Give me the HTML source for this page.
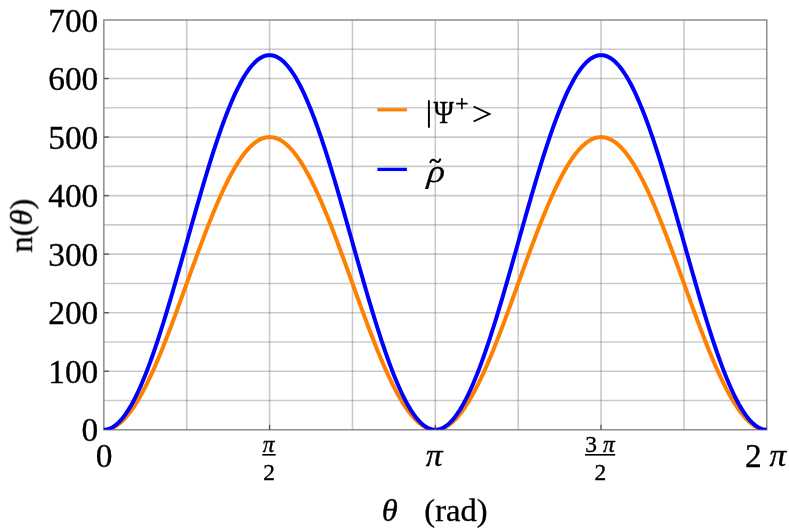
<!DOCTYPE html>
<html><head><meta charset="utf-8"><title>plot</title>
<style>
html,body{margin:0;padding:0;background:#fff;}
body{width:789px;height:532px;overflow:hidden;}
svg{display:block;}
text{font-family:"Liberation Serif",serif;fill:#000;stroke:#000;stroke-width:0.35px;}
.t{font-size:33.4px;}
.s{font-size:23.4px;}
.i{font-style:italic;}
</style></head><body>
<svg width="789" height="532" viewBox="0 0 789 532">
<rect width="789" height="532" fill="#fff"/>
<mask id="m" maskUnits="userSpaceOnUse" x="0" y="0" width="789" height="532"><rect width="789" height="532" fill="#fff"/></mask>
<g stroke="#666" stroke-opacity="0.35" stroke-width="1.6" fill="none">
<line x1="186.72" y1="20.0" x2="186.72" y2="429.8"/>
<line x1="269.59" y1="20.0" x2="269.59" y2="429.8"/>
<line x1="352.46" y1="20.0" x2="352.46" y2="429.8"/>
<line x1="435.32" y1="20.0" x2="435.32" y2="429.8"/>
<line x1="518.19" y1="20.0" x2="518.19" y2="429.8"/>
<line x1="601.06" y1="20.0" x2="601.06" y2="429.8"/>
<line x1="683.93" y1="20.0" x2="683.93" y2="429.8"/>
<line x1="103.85" y1="400.53" x2="766.8" y2="400.53"/>
<line x1="103.85" y1="371.26" x2="766.8" y2="371.26"/>
<line x1="103.85" y1="341.99" x2="766.8" y2="341.99"/>
<line x1="103.85" y1="312.71" x2="766.8" y2="312.71"/>
<line x1="103.85" y1="283.44" x2="766.8" y2="283.44"/>
<line x1="103.85" y1="254.17" x2="766.8" y2="254.17"/>
<line x1="103.85" y1="224.90" x2="766.8" y2="224.90"/>
<line x1="103.85" y1="195.63" x2="766.8" y2="195.63"/>
<line x1="103.85" y1="166.36" x2="766.8" y2="166.36"/>
<line x1="103.85" y1="137.09" x2="766.8" y2="137.09"/>
<line x1="103.85" y1="107.81" x2="766.8" y2="107.81"/>
<line x1="103.85" y1="78.54" x2="766.8" y2="78.54"/>
<line x1="103.85" y1="49.27" x2="766.8" y2="49.27"/>
</g>
<rect x="103.85" y="20.0" width="662.95" height="409.80" fill="none" stroke="#7c7c7c" stroke-width="1.3"/>
<clipPath id="c"><rect x="102.85" y="20.0" width="664.75" height="409.80"/></clipPath>
<g fill="none" stroke-width="4.0" stroke-linejoin="round" clip-path="url(#c)">
<path d="M103.85,429.80 L105.51,429.73 L107.16,429.51 L108.82,429.15 L110.48,428.65 L112.14,428.00 L113.79,427.21 L115.45,426.28 L117.11,425.20 L118.77,423.99 L120.42,422.64 L122.08,421.15 L123.74,419.52 L125.40,417.76 L127.05,415.87 L128.71,413.85 L130.37,411.70 L132.03,409.42 L133.68,407.02 L135.34,404.49 L137.00,401.85 L138.65,399.09 L140.31,396.21 L141.97,393.23 L143.63,390.13 L145.28,386.93 L146.94,383.63 L148.60,380.23 L150.26,376.73 L151.91,373.15 L153.57,369.47 L155.23,365.71 L156.89,361.86 L158.54,357.94 L160.20,353.95 L161.86,349.89 L163.52,345.76 L165.17,341.57 L166.83,337.32 L168.49,333.02 L170.14,328.67 L171.80,324.28 L173.46,319.84 L175.12,315.37 L176.77,310.87 L178.43,306.34 L180.09,301.79 L181.75,297.22 L183.40,292.63 L185.06,288.04 L186.72,283.44 L188.38,278.85 L190.03,274.25 L191.69,269.67 L193.35,265.10 L195.01,260.55 L196.66,256.02 L198.32,251.52 L199.98,247.05 L201.64,242.61 L203.29,238.22 L204.95,233.87 L206.61,229.57 L208.26,225.32 L209.92,221.13 L211.58,217.00 L213.24,212.93 L214.89,208.94 L216.55,205.02 L218.21,201.18 L219.87,197.42 L221.52,193.74 L223.18,190.15 L224.84,186.66 L226.50,183.25 L228.15,179.95 L229.81,176.75 L231.47,173.66 L233.13,170.67 L234.78,167.80 L236.44,165.04 L238.10,162.39 L239.75,159.87 L241.41,157.47 L243.07,155.19 L244.73,153.04 L246.38,151.01 L248.04,149.12 L249.70,147.36 L251.36,145.74 L253.01,144.25 L254.67,142.90 L256.33,141.68 L257.99,140.61 L259.64,139.68 L261.30,138.89 L262.96,138.24 L264.62,137.74 L266.27,137.37 L267.93,137.16 L269.59,137.09 L271.24,137.16 L272.90,137.37 L274.56,137.74 L276.22,138.24 L277.87,138.89 L279.53,139.68 L281.19,140.61 L282.85,141.68 L284.50,142.90 L286.16,144.25 L287.82,145.74 L289.48,147.36 L291.13,149.12 L292.79,151.01 L294.45,153.04 L296.11,155.19 L297.76,157.47 L299.42,159.87 L301.08,162.39 L302.73,165.04 L304.39,167.80 L306.05,170.67 L307.71,173.66 L309.36,176.75 L311.02,179.95 L312.68,183.25 L314.34,186.66 L315.99,190.15 L317.65,193.74 L319.31,197.42 L320.97,201.18 L322.62,205.02 L324.28,208.94 L325.94,212.93 L327.60,217.00 L329.25,221.13 L330.91,225.32 L332.57,229.57 L334.23,233.87 L335.88,238.22 L337.54,242.61 L339.20,247.05 L340.85,251.52 L342.51,256.02 L344.17,260.55 L345.83,265.10 L347.48,269.67 L349.14,274.25 L350.80,278.85 L352.46,283.44 L354.11,288.04 L355.77,292.63 L357.43,297.22 L359.09,301.79 L360.74,306.34 L362.40,310.87 L364.06,315.37 L365.72,319.84 L367.37,324.28 L369.03,328.67 L370.69,333.02 L372.34,337.32 L374.00,341.57 L375.66,345.76 L377.32,349.89 L378.97,353.95 L380.63,357.94 L382.29,361.86 L383.95,365.71 L385.60,369.47 L387.26,373.15 L388.92,376.73 L390.58,380.23 L392.23,383.63 L393.89,386.93 L395.55,390.13 L397.21,393.23 L398.86,396.21 L400.52,399.09 L402.18,401.85 L403.83,404.49 L405.49,407.02 L407.15,409.42 L408.81,411.70 L410.46,413.85 L412.12,415.87 L413.78,417.76 L415.44,419.52 L417.09,421.15 L418.75,422.64 L420.41,423.99 L422.07,425.20 L423.72,426.28 L425.38,427.21 L427.04,428.00 L428.70,428.65 L430.35,429.15 L432.01,429.51 L433.67,429.73 L435.32,429.80 L436.98,429.73 L438.64,429.51 L440.30,429.15 L441.95,428.65 L443.61,428.00 L445.27,427.21 L446.93,426.28 L448.58,425.20 L450.24,423.99 L451.90,422.64 L453.56,421.15 L455.21,419.52 L456.87,417.76 L458.53,415.87 L460.19,413.85 L461.84,411.70 L463.50,409.42 L465.16,407.02 L466.82,404.49 L468.47,401.85 L470.13,399.09 L471.79,396.21 L473.44,393.23 L475.10,390.13 L476.76,386.93 L478.42,383.63 L480.07,380.23 L481.73,376.73 L483.39,373.15 L485.05,369.47 L486.70,365.71 L488.36,361.86 L490.02,357.94 L491.68,353.95 L493.33,349.89 L494.99,345.76 L496.65,341.57 L498.31,337.32 L499.96,333.02 L501.62,328.67 L503.28,324.28 L504.93,319.84 L506.59,315.37 L508.25,310.87 L509.91,306.34 L511.56,301.79 L513.22,297.22 L514.88,292.63 L516.54,288.04 L518.19,283.44 L519.85,278.85 L521.51,274.25 L523.17,269.67 L524.82,265.10 L526.48,260.55 L528.14,256.02 L529.80,251.52 L531.45,247.05 L533.11,242.61 L534.77,238.22 L536.42,233.87 L538.08,229.57 L539.74,225.32 L541.40,221.13 L543.05,217.00 L544.71,212.93 L546.37,208.94 L548.03,205.02 L549.68,201.18 L551.34,197.42 L553.00,193.74 L554.66,190.15 L556.31,186.66 L557.97,183.25 L559.63,179.95 L561.29,176.75 L562.94,173.66 L564.60,170.67 L566.26,167.80 L567.91,165.04 L569.57,162.39 L571.23,159.87 L572.89,157.47 L574.54,155.19 L576.20,153.04 L577.86,151.01 L579.52,149.12 L581.17,147.36 L582.83,145.74 L584.49,144.25 L586.15,142.90 L587.80,141.68 L589.46,140.61 L591.12,139.68 L592.78,138.89 L594.43,138.24 L596.09,137.74 L597.75,137.37 L599.41,137.16 L601.06,137.09 L602.72,137.16 L604.38,137.37 L606.03,137.74 L607.69,138.24 L609.35,138.89 L611.01,139.68 L612.66,140.61 L614.32,141.68 L615.98,142.90 L617.64,144.25 L619.29,145.74 L620.95,147.36 L622.61,149.12 L624.27,151.01 L625.92,153.04 L627.58,155.19 L629.24,157.47 L630.90,159.87 L632.55,162.39 L634.21,165.04 L635.87,167.80 L637.52,170.67 L639.18,173.66 L640.84,176.75 L642.50,179.95 L644.15,183.25 L645.81,186.66 L647.47,190.15 L649.13,193.74 L650.78,197.42 L652.44,201.18 L654.10,205.02 L655.76,208.94 L657.41,212.93 L659.07,217.00 L660.73,221.13 L662.39,225.32 L664.04,229.57 L665.70,233.87 L667.36,238.22 L669.01,242.61 L670.67,247.05 L672.33,251.52 L673.99,256.02 L675.64,260.55 L677.30,265.10 L678.96,269.67 L680.62,274.25 L682.27,278.85 L683.93,283.44 L685.59,288.04 L687.25,292.63 L688.90,297.22 L690.56,301.79 L692.22,306.34 L693.88,310.87 L695.53,315.37 L697.19,319.84 L698.85,324.28 L700.50,328.67 L702.16,333.02 L703.82,337.32 L705.48,341.57 L707.13,345.76 L708.79,349.89 L710.45,353.95 L712.11,357.94 L713.76,361.86 L715.42,365.71 L717.08,369.47 L718.74,373.15 L720.39,376.73 L722.05,380.23 L723.71,383.63 L725.37,386.93 L727.02,390.13 L728.68,393.23 L730.34,396.21 L732.00,399.09 L733.65,401.85 L735.31,404.49 L736.97,407.02 L738.62,409.42 L740.28,411.70 L741.94,413.85 L743.60,415.87 L745.25,417.76 L746.91,419.52 L748.57,421.15 L750.23,422.64 L751.88,423.99 L753.54,425.20 L755.20,426.28 L756.86,427.21 L758.51,428.00 L760.17,428.65 L761.83,429.15 L763.49,429.51 L765.14,429.73 L766.80,429.80" stroke="#ff7f00"/>
<path d="M103.85,429.80 L105.51,429.71 L107.16,429.43 L108.82,428.97 L110.48,428.32 L112.14,427.49 L113.79,426.48 L115.45,425.29 L117.11,423.91 L118.77,422.36 L120.42,420.63 L122.08,418.72 L123.74,416.64 L125.40,414.39 L127.05,411.97 L128.71,409.38 L130.37,406.63 L132.03,403.71 L133.68,400.64 L135.34,397.41 L137.00,394.02 L138.65,390.49 L140.31,386.81 L141.97,382.99 L143.63,379.03 L145.28,374.93 L146.94,370.70 L148.60,366.35 L150.26,361.88 L151.91,357.28 L153.57,352.58 L155.23,347.76 L156.89,342.84 L158.54,337.83 L160.20,332.71 L161.86,327.51 L163.52,322.23 L165.17,316.86 L166.83,311.43 L168.49,305.92 L170.14,300.35 L171.80,294.73 L173.46,289.05 L175.12,283.33 L176.77,277.57 L178.43,271.77 L180.09,265.94 L181.75,260.09 L183.40,254.23 L185.06,248.35 L186.72,242.46 L188.38,236.58 L190.03,230.70 L191.69,224.83 L193.35,218.98 L195.01,213.16 L196.66,207.36 L198.32,201.60 L199.98,195.87 L201.64,190.20 L203.29,184.57 L204.95,179.00 L206.61,173.50 L208.26,168.06 L209.92,162.70 L211.58,157.41 L213.24,152.21 L214.89,147.10 L216.55,142.08 L218.21,137.16 L219.87,132.35 L221.52,127.64 L223.18,123.05 L224.84,118.57 L226.50,114.22 L228.15,110.00 L229.81,105.90 L231.47,101.94 L233.13,98.12 L234.78,94.44 L236.44,90.90 L238.10,87.52 L239.75,84.29 L241.41,81.21 L243.07,78.30 L244.73,75.54 L246.38,72.96 L248.04,70.53 L249.70,68.28 L251.36,66.20 L253.01,64.29 L254.67,62.56 L256.33,61.01 L257.99,59.64 L259.64,58.44 L261.30,57.43 L262.96,56.60 L264.62,55.96 L266.27,55.50 L267.93,55.22 L269.59,55.13 L271.24,55.22 L272.90,55.50 L274.56,55.96 L276.22,56.60 L277.87,57.43 L279.53,58.44 L281.19,59.64 L282.85,61.01 L284.50,62.56 L286.16,64.29 L287.82,66.20 L289.48,68.28 L291.13,70.53 L292.79,72.96 L294.45,75.54 L296.11,78.30 L297.76,81.21 L299.42,84.29 L301.08,87.52 L302.73,90.90 L304.39,94.44 L306.05,98.12 L307.71,101.94 L309.36,105.90 L311.02,110.00 L312.68,114.22 L314.34,118.57 L315.99,123.05 L317.65,127.64 L319.31,132.35 L320.97,137.16 L322.62,142.08 L324.28,147.10 L325.94,152.21 L327.60,157.41 L329.25,162.70 L330.91,168.06 L332.57,173.50 L334.23,179.00 L335.88,184.57 L337.54,190.20 L339.20,195.87 L340.85,201.60 L342.51,207.36 L344.17,213.16 L345.83,218.98 L347.48,224.83 L349.14,230.70 L350.80,236.58 L352.46,242.46 L354.11,248.35 L355.77,254.23 L357.43,260.09 L359.09,265.94 L360.74,271.77 L362.40,277.57 L364.06,283.33 L365.72,289.05 L367.37,294.73 L369.03,300.35 L370.69,305.92 L372.34,311.43 L374.00,316.86 L375.66,322.23 L377.32,327.51 L378.97,332.71 L380.63,337.83 L382.29,342.84 L383.95,347.76 L385.60,352.58 L387.26,357.28 L388.92,361.88 L390.58,366.35 L392.23,370.70 L393.89,374.93 L395.55,379.03 L397.21,382.99 L398.86,386.81 L400.52,390.49 L402.18,394.02 L403.83,397.41 L405.49,400.64 L407.15,403.71 L408.81,406.63 L410.46,409.38 L412.12,411.97 L413.78,414.39 L415.44,416.64 L417.09,418.72 L418.75,420.63 L420.41,422.36 L422.07,423.91 L423.72,425.29 L425.38,426.48 L427.04,427.49 L428.70,428.32 L430.35,428.97 L432.01,429.43 L433.67,429.71 L435.32,429.80 L436.98,429.71 L438.64,429.43 L440.30,428.97 L441.95,428.32 L443.61,427.49 L445.27,426.48 L446.93,425.29 L448.58,423.91 L450.24,422.36 L451.90,420.63 L453.56,418.72 L455.21,416.64 L456.87,414.39 L458.53,411.97 L460.19,409.38 L461.84,406.63 L463.50,403.71 L465.16,400.64 L466.82,397.41 L468.47,394.02 L470.13,390.49 L471.79,386.81 L473.44,382.99 L475.10,379.03 L476.76,374.93 L478.42,370.70 L480.07,366.35 L481.73,361.88 L483.39,357.28 L485.05,352.58 L486.70,347.76 L488.36,342.84 L490.02,337.83 L491.68,332.71 L493.33,327.51 L494.99,322.23 L496.65,316.86 L498.31,311.43 L499.96,305.92 L501.62,300.35 L503.28,294.73 L504.93,289.05 L506.59,283.33 L508.25,277.57 L509.91,271.77 L511.56,265.94 L513.22,260.09 L514.88,254.23 L516.54,248.35 L518.19,242.46 L519.85,236.58 L521.51,230.70 L523.17,224.83 L524.82,218.98 L526.48,213.16 L528.14,207.36 L529.80,201.60 L531.45,195.87 L533.11,190.20 L534.77,184.57 L536.42,179.00 L538.08,173.50 L539.74,168.06 L541.40,162.70 L543.05,157.41 L544.71,152.21 L546.37,147.10 L548.03,142.08 L549.68,137.16 L551.34,132.35 L553.00,127.64 L554.66,123.05 L556.31,118.57 L557.97,114.22 L559.63,110.00 L561.29,105.90 L562.94,101.94 L564.60,98.12 L566.26,94.44 L567.91,90.90 L569.57,87.52 L571.23,84.29 L572.89,81.21 L574.54,78.30 L576.20,75.54 L577.86,72.96 L579.52,70.53 L581.17,68.28 L582.83,66.20 L584.49,64.29 L586.15,62.56 L587.80,61.01 L589.46,59.64 L591.12,58.44 L592.78,57.43 L594.43,56.60 L596.09,55.96 L597.75,55.50 L599.41,55.22 L601.06,55.13 L602.72,55.22 L604.38,55.50 L606.03,55.96 L607.69,56.60 L609.35,57.43 L611.01,58.44 L612.66,59.64 L614.32,61.01 L615.98,62.56 L617.64,64.29 L619.29,66.20 L620.95,68.28 L622.61,70.53 L624.27,72.96 L625.92,75.54 L627.58,78.30 L629.24,81.21 L630.90,84.29 L632.55,87.52 L634.21,90.90 L635.87,94.44 L637.52,98.12 L639.18,101.94 L640.84,105.90 L642.50,110.00 L644.15,114.22 L645.81,118.57 L647.47,123.05 L649.13,127.64 L650.78,132.35 L652.44,137.16 L654.10,142.08 L655.76,147.10 L657.41,152.21 L659.07,157.41 L660.73,162.70 L662.39,168.06 L664.04,173.50 L665.70,179.00 L667.36,184.57 L669.01,190.20 L670.67,195.87 L672.33,201.60 L673.99,207.36 L675.64,213.16 L677.30,218.98 L678.96,224.83 L680.62,230.70 L682.27,236.58 L683.93,242.46 L685.59,248.35 L687.25,254.23 L688.90,260.09 L690.56,265.94 L692.22,271.77 L693.88,277.57 L695.53,283.33 L697.19,289.05 L698.85,294.73 L700.50,300.35 L702.16,305.92 L703.82,311.43 L705.48,316.86 L707.13,322.23 L708.79,327.51 L710.45,332.71 L712.11,337.83 L713.76,342.84 L715.42,347.76 L717.08,352.58 L718.74,357.28 L720.39,361.88 L722.05,366.35 L723.71,370.70 L725.37,374.93 L727.02,379.03 L728.68,382.99 L730.34,386.81 L732.00,390.49 L733.65,394.02 L735.31,397.41 L736.97,400.64 L738.62,403.71 L740.28,406.63 L741.94,409.38 L743.60,411.97 L745.25,414.39 L746.91,416.64 L748.57,418.72 L750.23,420.63 L751.88,422.36 L753.54,423.91 L755.20,425.29 L756.86,426.48 L758.51,427.49 L760.17,428.32 L761.83,428.97 L763.49,429.43 L765.14,429.71 L766.80,429.80" stroke="#0000ff"/>
</g>
<g stroke="#555" stroke-width="1.3">
<line x1="103.85" y1="371.26" x2="108.85" y2="371.26"/>
<line x1="103.85" y1="312.71" x2="108.85" y2="312.71"/>
<line x1="103.85" y1="254.17" x2="108.85" y2="254.17"/>
<line x1="103.85" y1="195.63" x2="108.85" y2="195.63"/>
<line x1="103.85" y1="137.09" x2="108.85" y2="137.09"/>
<line x1="103.85" y1="78.54" x2="108.85" y2="78.54"/>
<line x1="269.59" y1="429.8" x2="269.59" y2="424.8"/>
<line x1="435.32" y1="429.8" x2="435.32" y2="424.8"/>
<line x1="601.06" y1="429.8" x2="601.06" y2="424.8"/>
</g>
<g mask="url(#m)">
<text class="t" transform="translate(98.30,441.30) scale(1,1.04)" text-anchor="end">0</text>
<text class="t" transform="translate(98.30,382.76) scale(1,1.04)" text-anchor="end">100</text>
<text class="t" transform="translate(98.30,324.21) scale(1,1.04)" text-anchor="end">200</text>
<text class="t" transform="translate(98.30,265.67) scale(1,1.04)" text-anchor="end">300</text>
<text class="t" transform="translate(98.30,207.13) scale(1,1.04)" text-anchor="end">400</text>
<text class="t" transform="translate(98.30,148.59) scale(1,1.04)" text-anchor="end">500</text>
<text class="t" transform="translate(98.30,90.04) scale(1,1.04)" text-anchor="end">600</text>
<text class="t" transform="translate(98.30,31.50) scale(1,1.04)" text-anchor="end">700</text>
<text class="t" transform="translate(104.00,466.60) scale(1,1.04)" text-anchor="middle">0</text>
<text class="t i" transform="translate(434.00,466.00) scale(1,0.94)" text-anchor="middle">π</text>
<text class="t" transform="translate(745.00,466.60) scale(1,1.04)" text-anchor="start">2</text>
<text class="t i" transform="translate(769.60,466.00) scale(1,0.94)" text-anchor="start">π</text>
<text class="t i" transform="translate(381.70,521.10) scale(0.975,0.975)" text-anchor="start">θ</text>
<text class="t" transform="translate(424.30,521.10) scale(0.975,0.975)" text-anchor="start">(rad)</text>
<text class="t" transform="translate(32.10,252.60) rotate(-90) scale(0.975,0.975)" text-anchor="start">n(<tspan class="i">θ</tspan>)</text>
</g>
<g mask="url(#m)">
<text class="s i" transform="translate(268.50,452.10) scale(1,1.03)" text-anchor="middle">π</text>
<line x1="262.3" y1="454.8" x2="275.7" y2="454.8" stroke="#000" stroke-width="1.6"/>
<text class="s" transform="translate(269.00,479.80) scale(1,1.03)" text-anchor="middle">2</text>
<text class="s" transform="translate(600.00,452.10) scale(1,1.03)" text-anchor="middle">3 <tspan class="i">π</tspan></text>
<line x1="585" y1="454.8" x2="615.2" y2="454.8" stroke="#000" stroke-width="1.6"/>
<text class="s" transform="translate(600.30,479.80) scale(1,1.03)" text-anchor="middle">2</text>
</g>
<line x1="377.4" y1="109.8" x2="406.9" y2="109.8" stroke="#ff7f00" stroke-width="3.2"/>
<line x1="377.4" y1="169.4" x2="406.9" y2="169.4" stroke="#0000ff" stroke-width="3.3"/>
<g mask="url(#m)">
<line x1="428.9" y1="100.3" x2="428.9" y2="127.7" stroke="#000" stroke-width="1.9"/>
<text class="t" transform="translate(433.6,122.5) scale(0.825,0.965)">Ψ</text>
<path d="M456.2,103.6 H467.6 M461.9,98.1 V109.2" stroke="#000" stroke-width="1.6" fill="none"/>
<path d="M473.6,106.5 L489.4,114 L473.6,121.5" stroke="#000" stroke-width="1.9" fill="none" stroke-linejoin="miter"/>
<text class="t i" style="stroke-width:0.2px" transform="translate(426.7,181.5) skewX(-6) scale(1.08,0.97)">ρ</text>
<path d="M430.4,162.3 C431.4,159.0 433.6,159.2 435.3,160.8 C437.0,162.4 439.2,162.6 440.2,159.4" stroke="#000" stroke-width="2.0" fill="none" stroke-linecap="round"/>
</g>
</svg>
</body></html>
